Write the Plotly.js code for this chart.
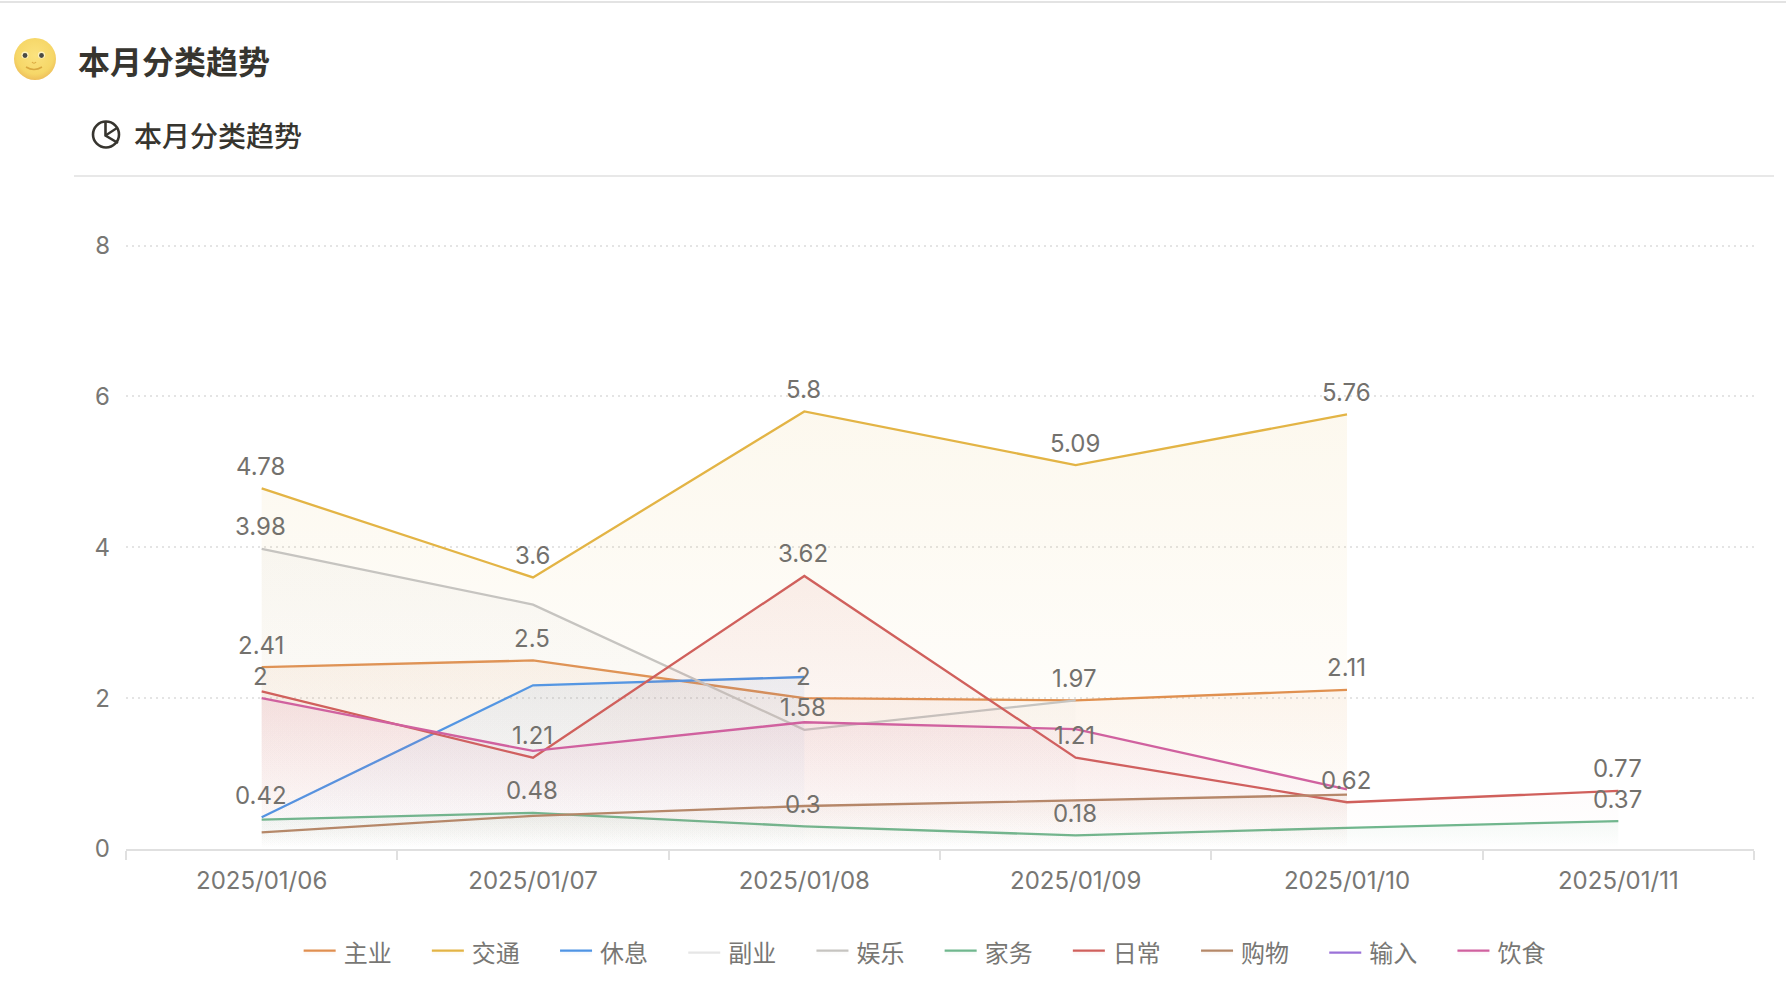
<!DOCTYPE html>
<html><head><meta charset="utf-8">
<script src="https://cdn.plot.ly/plotly-3.0.1.min.js"></script>
<style>
html,body{margin:0;padding:0;background:#fff;width:1786px;height:1000px;overflow:hidden;font-family:Inter,"Noto Sans CJK SC",sans-serif}
#chart{position:absolute;left:0;top:0;width:1786px;height:1000px}
.abs{position:absolute;color:#37352f;font-family:"Noto Sans CJK SC",sans-serif;white-space:nowrap;line-height:1}
</style></head><body>
<div id="chart"></div>
<div class="abs" style="left:0;top:1px;width:1786px;height:2px;background:#e3e3e3"></div>
<div class="abs" style="left:74px;top:175px;width:1700px;height:2px;background:#e8e8e8"></div>
<svg class="abs" style="left:0;top:0" width="160" height="170" viewBox="0 0 160 170">
  <defs><radialGradient id="m" cx="50%" cy="42%" r="58%"><stop offset="0%" stop-color="#fbe27e"/><stop offset="75%" stop-color="#f6d768"/><stop offset="100%" stop-color="#eebf5b"/></radialGradient></defs>
  <circle cx="35" cy="59" r="21" fill="url(#m)"/>
  <circle cx="25" cy="55" r="3.6" fill="#fff3c0"/><circle cx="25" cy="55.5" r="2.4" fill="#4a4a45"/>
  <circle cx="41.5" cy="55" r="3.6" fill="#fff3c0"/><circle cx="41.5" cy="55.5" r="2.4" fill="#4a4a45"/>
  <path d="M32 62q2 2.5 4 0" fill="none" stroke="#d9a83f" stroke-width="1.2"/>
  <path d="M26 67q8 5 16 0" fill="none" stroke="#d9a83f" stroke-width="1.5"/>
  <circle cx="106" cy="134.5" r="13" fill="none" stroke="#37352f" stroke-width="2.6"/>
  <path d="M105.5 122V135.5L118 143" fill="none" stroke="#37352f" stroke-width="2.6"/>
  <path d="M105.5 135.5L117 128" fill="none" stroke="#37352f" stroke-width="2.2"/>
</svg>
<div class="abs" style="left:78px;top:44px;font-size:32px;font-weight:700">本月分类趋势</div>
<div class="abs" style="left:134px;top:121px;font-size:28px;font-weight:500">本月分类趋势</div>
<script>
const dates = ["2025/01/06","2025/01/07","2025/01/08","2025/01/09","2025/01/10","2025/01/11"];
const yTicks = [0,2,4,6,8];
const names = ["主业","交通","休息","副业","娱乐","家务","日常","购物","输入","饮食"];
const colors = ["#e08f50","#e3b445","#4f94e4","#e6e6e6","#c6c4c0","#70b78e","#d0605c","#b58868","#9b72d8","#d0619f"];
const zhuye  = [2.41,2.5,2,1.97,2.11,null];
const jiaotong = [4.78,3.6,5.8,5.09,5.76,null];
const xiuxi  = [0.42,2.17,2.28,null,null,null];
const fuye   = [null,null,null,null,null,null];
const yule   = [3.98,3.24,1.58,1.97,null,null];
const jiawu  = [0.39,0.48,0.3,0.18,0.28,0.37];
const richang= [2.09,1.21,3.62,1.21,0.62,0.77];
const gouwu  = [0.22,0.44,0.57,0.65,0.72,null];
const shuru  = [null,null,null,null,null,null];
const yinshi = [2,1.3,1.68,1.59,0.79,null];
const series = [zhuye,jiaotong,xiuxi,fuye,yule,jiawu,richang,gouwu,shuru,yinshi];
// which series' value label is visible on each date (others were hidden by overlap)
const labelled = [
  [1,4,0,9,2],
  [1,0,6,5],
  [1,6,0,4,5],
  [1,4,6,5],
  [1,0,6],
  [6,5]
];
function rgba(hex,a){const n=parseInt(hex.slice(1),16);return `rgba(${n>>16},${(n>>8)&255},${n&255},${a})`;}
const traces = series.map((v,i)=>{
  const max = Math.max(0,...v.filter(d=>d!==null));
  const t = {type:"scatter",mode:"lines",name:names[i],x:dates,y:v,
    line:{color:colors[i],width:2.3,shape:"linear"},hoverinfo:"skip"};
  if(max>0){
    t.fill="tozeroy";
    t.fillcolor=rgba(colors[i],0.06);
    t.fillgradient={type:"vertical",start:0,stop:max,
      colorscale:[[0,rgba(colors[i],0)],[1,rgba(colors[i],0.09)]]};
  }
  return t;
});
const annotations=[];
labelled.forEach((list,d)=>list.forEach(s=>{
  annotations.push({x:dates[d],y:series[s][d],xref:"x",yref:"y",text:String(series[s][d]),
    showarrow:false,yshift:22,xshift:-1,font:{size:24,color:"#73716d"}});
}));
const layout={
  width:1786,height:1000,paper_bgcolor:"#fff",plot_bgcolor:"rgba(0,0,0,0)",
  font:{family:'Inter,"Noto Sans CJK SC",sans-serif',size:24,color:"#787774"},
  margin:{l:126,r:32,t:244,b:151,pad:0,autoexpand:false},showlegend:true,
  xaxis:{type:"category",categoryorder:"array",categoryarray:dates,range:[-0.5,5.5],fixedrange:true,
    tickson:"boundaries",ticks:"outside",ticklen:9,tickwidth:2,tickcolor:"#e0e0e0",ticklabelstandoff:9,
    showline:true,linecolor:"#e0e0e0",linewidth:2,showgrid:false,zeroline:false,
    tickfont:{size:24,color:"#787774"}},
  yaxis:{range:[0,8.02],tickvals:yTicks,fixedrange:true,showline:false,zeroline:false,
    gridcolor:"#e4e4e4",griddash:"2px,4px",gridwidth:2,ticks:"",ticklabelstandoff:15,
    tickfont:{size:24,color:"#787774"}},
  legend:{orientation:"h",xref:"container",yref:"container",x:0.5264,xanchor:"center",y:0.047,yanchor:"middle",
    entrywidth:81.2,entrywidthmode:"pixels",itemwidth:32,traceorder:"normal",
    font:{size:24,color:"#787774",family:'"Noto Sans CJK SC",sans-serif'},itemclick:false,itemdoubleclick:false},
  annotations
};
Plotly.newPlot("chart",traces,layout,{displayModeBar:false,staticPlot:true}).then(()=>{
  document.querySelectorAll(".legendtext").forEach(t=>t.setAttribute("x",+t.getAttribute("x")+3));
});
</script>
</body></html>
